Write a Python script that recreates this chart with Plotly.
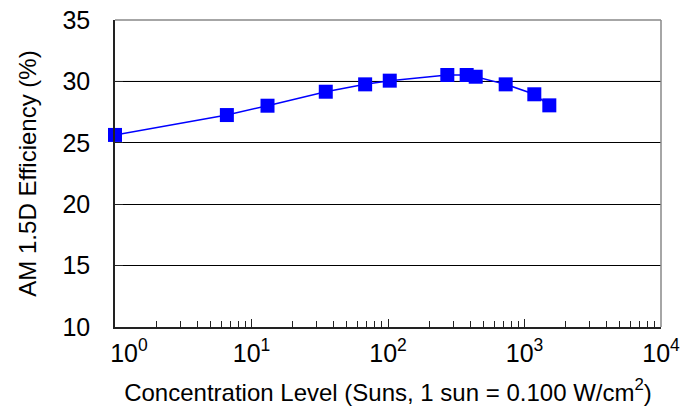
import plotly.graph_objects as go

# Data
suns = [1.0, 6.6, 13.1, 35, 68, 103, 272, 377, 439, 728, 1180, 1520]
efficiency = [25.64, 27.26, 28.02, 29.16, 29.76, 30.06, 30.52, 30.52, 30.38, 29.76, 28.95, 28.05]

x_tickvals = [1, 10, 100, 1000, 10000]
x_ticktext = ["&nbsp;&nbsp;&nbsp;&nbsp;10<sup>0</sup>", "10<sup>1</sup>", "10<sup>2</sup>",
              "10<sup>3</sup>", "10<sup>4</sup>"]
y_tickvals = [10, 15, 20, 25, 30, 35]

FONT = "Arial, Liberation Sans, sans-serif"

fig = go.Figure()
fig.add_trace(go.Scatter(
    x=suns, y=efficiency, mode="lines+markers",
    line=dict(color="#0000FF", width=1.5),
    marker=dict(symbol="square", size=14, color="#0000FF", line=dict(width=0)),
    cliponaxis=False, showlegend=False,
))

fig.update_layout(
    width=696, height=411,
    margin=dict(l=115, r=35, t=20, b=84),
    paper_bgcolor="white", plot_bgcolor="white",
    font=dict(family=FONT, color="black", size=24),
    xaxis=dict(
        type="log", range=[0, 4], automargin=False,
        tickvals=x_tickvals, ticktext=x_ticktext,
        ticks="inside", ticklen=8, tickcolor="#222", tickwidth=1,
        minor=dict(ticks="inside", ticklen=6, dtick="D1", tickcolor="#222", showgrid=False),
        showline=True, linecolor="#222", linewidth=1.5,
        showgrid=False, zeroline=False,
        tickfont=dict(size=25), ticklabelstandoff=3,
        title=dict(text="Concentration Level (Suns, 1 sun = 0.100 W/cm<sup>2</sup>)",
                   font=dict(size=24), standoff=18),
    ),
    yaxis=dict(
        range=[10, 35], tickvals=y_tickvals, automargin=False,
        ticks="inside", ticklen=8, tickcolor="#222", tickwidth=1,
        showline=True, linecolor="#222", linewidth=1.5,
        showgrid=True, gridcolor="#000", gridwidth=1,
        zeroline=False,
        tickfont=dict(size=25), ticklabelstandoff=18,
        title=dict(text="AM 1.5D Efficiency (%)", font=dict(size=24), standoff=19),
    ),
    shapes=[
        dict(type="line", xref="paper", yref="paper", x0=0, x1=1, y0=1, y1=1,
             line=dict(color="#888", width=1.5)),
        dict(type="line", xref="paper", yref="paper", x0=1, x1=1, y0=0, y1=1,
             line=dict(color="#888", width=1.5)),
        dict(type="line", xref="paper", yref="y", x0=0, x1=1, y0=30, y1=30,
             line=dict(color="#777", width=1), layer="below"),
    ],
)

fig.write_html("out.html")
